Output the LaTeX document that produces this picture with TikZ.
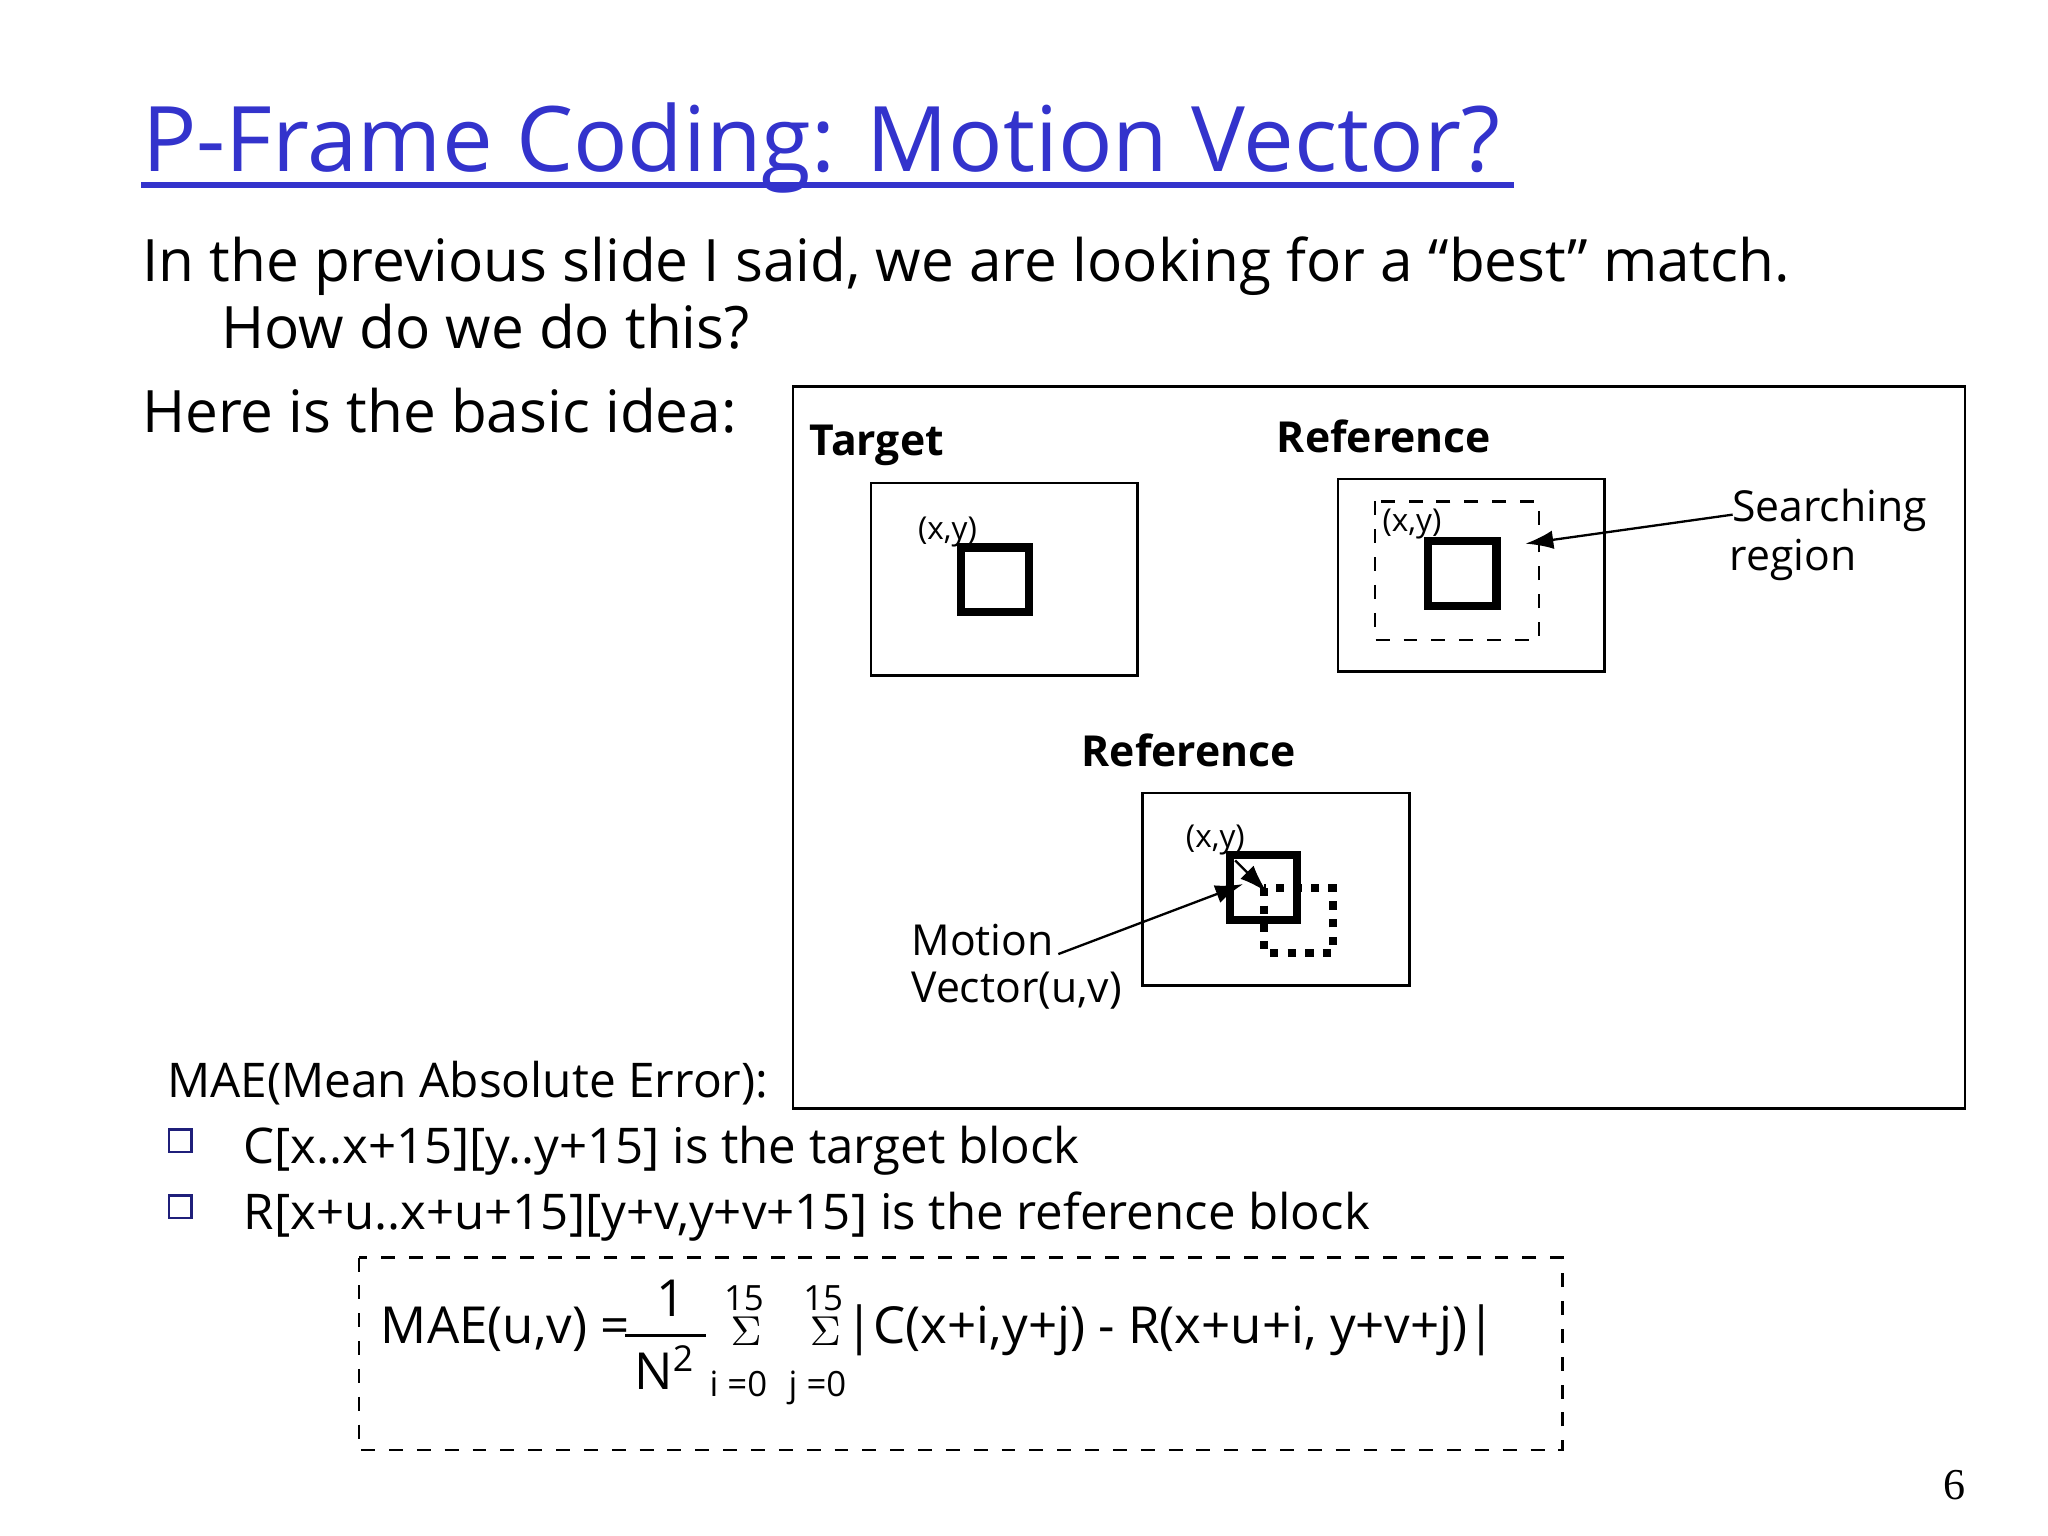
\documentclass[tikz,border=0pt]{standalone}
\usepackage{fontspec}
\setmainfont{Open Sans}
\newfontfamily\serifnum{Liberation Serif}
\usetikzlibrary{arrows.meta}
\begin{document}
\begin{tikzpicture}[x=0.01cm,y=-0.01cm,
  lbl/.style={anchor=base west,inner sep=0},
  frame/.style={draw,line width=0.6pt},
  blk/.style={draw,line width=1.8pt},
  arr/.style={-{Latex[length=6pt,width=4pt]},line width=0.5pt}]
\useasboundingbox (0,0) rectangle (1552,1164);
\definecolor{tblue}{RGB}{51,51,204}
\node[lbl,text=tblue,font=\fontsize{19.5}{23}\selectfont] (title) at (107,130) {P-Frame Coding: Motion Vector?};
\draw[tblue,line width=1.2pt] (title.base west) ++(0,10) -- ++(1040,0);
\node[lbl,font=\fontsize{12.6}{15}\selectfont] (l1) at (107,213) {In the previous slide I said, we are looking for a “best” match.};
\node[lbl,font=\fontsize{12.6}{15}\selectfont] (l2) at (167,264) {How do we do this?};
\node[lbl,font=\fontsize{12.6}{15}\selectfont] (l3) at (107,328) {Here is the basic idea:};
\draw[frame] (601,293) rectangle (1489,840);
% Target
\node[lbl,font=\bfseries\fontsize{9.2}{11}\selectfont] (tl) at (613,345) {Target};
\draw[frame] (660,366) rectangle (862,512);
\draw[blk] (728,415) rectangle (780,464);
\node[lbl,font=\fontsize{6.8}{8}\selectfont] (txy) at (695,409) {(x,y)};
% Reference 1
\node[lbl,font=\bfseries\fontsize{9.2}{11}\selectfont] (rl) at (967,343) {Reference};
\draw[frame] (1014,363) rectangle (1216,509);
\draw[dashed,line width=0.5pt] (1042,380) rectangle (1166,485);
\draw[blk] (1082,410) rectangle (1134,459);
\node[lbl,font=\fontsize{6.8}{8}\selectfont] (rxy) at (1047,403) {(x,y)};
\node[lbl,font=\fontsize{9.2}{11}\selectfont] (sr1) at (1312,395) {Searching};
\node[lbl,font=\fontsize{9.2}{11}\selectfont] (sr2) at (1310,432) {region};
\coordinate (srs) at (1313,390);
\coordinate (sre) at (1156,412);
\draw[arr] (srs) -- (sre);
% Reference 2
\node[lbl,font=\bfseries\fontsize{9.2}{11}\selectfont] (rl2) at (819,581) {Reference};
\draw[frame] (866,601) rectangle (1068,747);
\node[lbl,font=\fontsize{6.8}{8}\selectfont] (rxy2) at (898,642) {(x,y)};
\draw[blk] (932,648) rectangle (983,697);
\draw[line width=1.8pt,dotted] (958,673) rectangle (1010,722);
\coordinate (a1) at (936,652);
\coordinate (a2) at (960,676);
\draw[arr] (a1) -- (a2);
\node[lbl,font=\fontsize{9.2}{11}\selectfont] (mv1) at (690,724) {Motion};
\node[lbl,font=\fontsize{9.2}{11}\selectfont] (mv2) at (690,760) {Vector(u,v)};
\coordinate (ms) at (802,723);
\coordinate (me) at (942,670);
\draw[arr] (ms) -- (me);
% MAE
\node[lbl,font=\fontsize{10.3}{12}\selectfont] (mae) at (126,832) {MAE(Mean Absolute Error):};
\draw[line width=0.6pt,draw=tblue!60!black] (128,856) rectangle (145,873);
\draw[line width=0.6pt,draw=tblue!60!black] (128,906) rectangle (145,923);
\node[lbl,font=\fontsize{10.6}{12}\selectfont] (b1) at (184,882) {C[x..x+15][y..y+15] is the target block};
\node[lbl,font=\fontsize{10.6}{12}\selectfont] (b2) at (184,932) {R[x+u..x+u+15][y+v,y+v+15] is the reference block};
\draw[dashed,line width=0.5pt] (272,953) rectangle (1184,1099);
\node[lbl,font=\fontsize{11}{13}\selectfont] (f1) at (288,1018) {MAE(u,v) =};
\draw[line width=0.5pt] (474,1012) -- (535,1012);
\node[lbl,font=\fontsize{11}{13}\selectfont] (f2) at (497,998) {1};
\node[lbl,font=\fontsize{11}{13}\selectfont] (f3) at (480,1053) {N\textsuperscript{2}};
\node[lbl,font=\fontsize{7.5}{9}\selectfont] (s1) at (548,993) {15};
\node[lbl,font=\fontsize{7.5}{9}\selectfont] (s2) at (608,993) {15};
\node[lbl,font=\serifnum\fontsize{9}{11}\selectfont] (sg1) at (553,1020) {$\Sigma$};
\node[lbl,font=\serifnum\fontsize{9}{11}\selectfont] (sg2) at (613,1020) {$\Sigma$};
\node[lbl,font=\fontsize{7.5}{9}\selectfont] (i0) at (537,1058) {i =0};
\node[lbl,font=\fontsize{7.5}{9}\selectfont] (j0) at (597,1058) {j =0};
\node[lbl,font=\fontsize{11}{13}\selectfont] (f4) at (640,1018) {|C(x+i,y+j) - R(x+u+i, y+v+j)|};
\node[lbl,font=\serifnum\fontsize{9.5}{11}\selectfont] (pg) at (1472,1136) {6};
\end{tikzpicture}
\end{document}
